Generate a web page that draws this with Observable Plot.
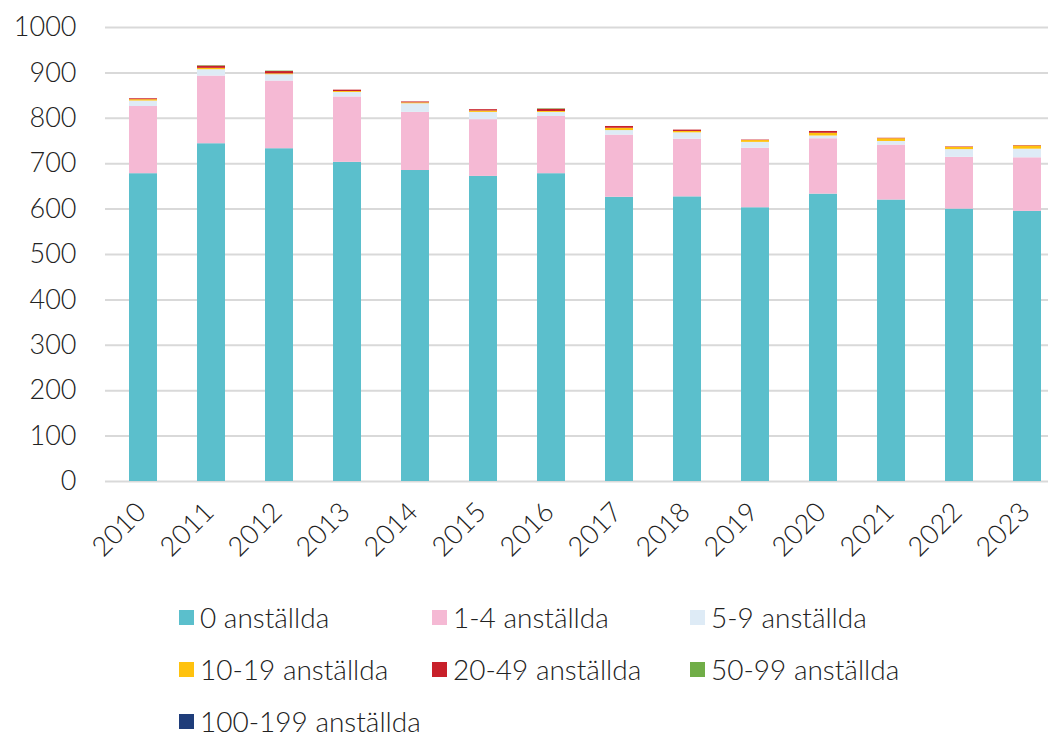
<!DOCTYPE html>
<html><head><meta charset="utf-8">
<script src="https://cdn.jsdelivr.net/npm/d3@7"></script>
<script src="https://cdn.jsdelivr.net/npm/@observablehq/plot@0.6"></script>
<style>
body{margin:0;background:#fff;font-family:Lato,"Open Sans",sans-serif;font-weight:300;}
#wrap{position:relative;width:1052px;}
.legend{display:grid;grid-template-columns:253px 258px 300px;row-gap:24px;margin-left:179px;margin-top:13px;font-size:28px;color:#222;font-weight:300;}
.item{display:flex;align-items:center;height:28px;line-height:1;}
.item span{line-height:1;}
.sw{width:15px;height:15px;margin-right:6px;display:inline-block;flex:none;}
</style></head>
<body><div id="wrap"></div>
<script>
const years = ["2010","2011","2012","2013","2014","2015","2016","2017","2018","2019","2020","2021","2022","2023"];
const series = ["0 anställda","1-4 anställda","5-9 anställda","10-19 anställda","20-49 anställda","50-99 anställda","100-199 anställda"];
const colors = ["#5bbfcc","#f5b9d4","#deebf6","#ffc20e","#c8202a","#70ad47","#1f3d7a"];
const v0    = [678,744,733,703,685,672,678,626,627,603,633,620,600,595];
const v1_4  = [148,149,149,144,128,125,126,137,127,131,122,121,114,118];
const v5_9  = [12,14,14,10,19,16,9,10,14,13,6,8,17,19];
const v10_19= [3,3,2,2,2,3,2,5,3,4,6,6,5,7];
const v20_49= [2,5,5,3,2,3,5,4,3,1,4,1,1,1];
const v50_99= [0,1,1,0,0,0,1,0,0,0,0,0,0,0];
const v100_199=[0,0,0,0,0,0,0,0,0,0,0,0,0,0];
const yTicks = [0,100,200,300,400,500,600,700,800,900,1000];

const cols = [v0,v1_4,v5_9,v10_19,v20_49,v50_99,v100_199];
const data = [];
years.forEach((y,i)=>series.forEach((s,j)=>data.push({year:y,series:s,value:cols[j][i]})));

const chart = Plot.plot({
  width:1052, height:590,
  marginTop:27, marginBottom:109, marginLeft:105, marginRight:4,
  style:{fontFamily:"Lato, 'Open Sans', sans-serif", fontSize:"27px", fontWeight:300, color:"#222", background:"#fff"},
  x:{domain:years, range:[85.6,1084.4], padding:0.59, label:null},
  y:{domain:[0,1000], label:null},
  color:{domain:series, range:colors},
  marks:[
    Plot.gridY(yTicks,{stroke:"#d9d9d9", strokeOpacity:1, strokeWidth:2}),
    Plot.barY(data,{x:"year", y:"value", fill:"series", order:series}),
    Plot.axisY(yTicks,{tickSize:0, tickPadding:29, fontSize:27, tickFormat:d=>String(d)}),
    Plot.axisX({tickSize:0, tickRotate:-45, tickPadding:26, dx:-2, fontSize:27})
  ]
});
const wrap = document.getElementById("wrap");
wrap.appendChild(chart);
const leg = document.createElement("div");
leg.className="legend";
series.forEach((s,i)=>{
  const it=document.createElement("div");it.className="item";
  it.innerHTML=`<span class="sw" style="background:${colors[i]}"></span><span>${s}</span>`;
  leg.appendChild(it);
});
wrap.appendChild(leg);
</script></body></html>
